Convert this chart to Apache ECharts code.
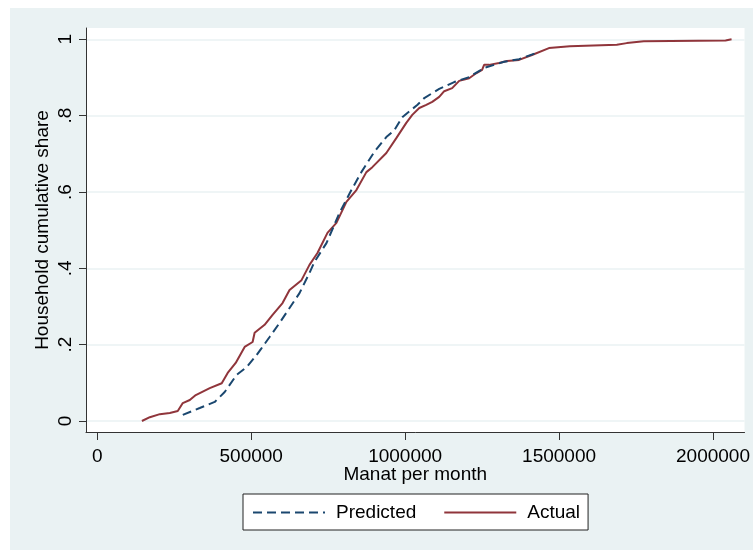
<!DOCTYPE html>
<html>
<head>
<meta charset="utf-8">
<script src="https://cdn.jsdelivr.net/npm/echarts@6/dist/echarts.min.js"></script>
<style>
  html, body { margin: 0; padding: 0; background: #ffffff; }
  #chart { width: 753px; height: 550px; }
</style>
</head>
<body>
<div id="chart"></div>
<script>
// Cumulative distribution of household income (manat per month)
const actualIncome = [145000, 170800, 203200, 235600, 261500, 277800, 300500, 320000, 365400, 404300,
  423600, 449600, 478700, 504600, 511100, 543500, 569400, 601800, 624500, 663400,
  689300, 715200, 747700, 776800, 809200, 841700, 874100, 893500, 938900, 971300,
  1003700, 1023200, 1045900, 1068600, 1088000, 1110700, 1126900, 1152800, 1175500, 1207900,
  1230600, 1250000, 1256500, 1272700, 1305100, 1331000, 1369900,
  1412000, 1467100, 1535100, 1687500, 1719900, 1775000, 2040800, 2060200];
const actualShare = [0.000, 0.010, 0.018, 0.021, 0.026, 0.047, 0.055, 0.068, 0.086, 0.099,
  0.126, 0.152, 0.194, 0.207, 0.231, 0.252, 0.278, 0.309, 0.343, 0.369,
  0.409, 0.440, 0.493, 0.519, 0.574, 0.605, 0.652, 0.665, 0.702, 0.741,
  0.781, 0.802, 0.820, 0.828, 0.836, 0.849, 0.864, 0.872, 0.891, 0.898,
  0.911, 0.920, 0.933, 0.933, 0.938, 0.943, 0.946,
  0.959, 0.977, 0.982, 0.986, 0.990, 0.995, 0.997, 1.000];

const predictedIncome = [277800, 332800, 381500, 413900, 452800, 485200, 517600, 533800, 559700, 592100,
  624500, 656900, 689300, 705500, 744400, 786500, 825400, 857800, 899900, 938900,
  964800, 990700, 1039300, 1062100, 1110700, 1159300, 1207900, 1256500, 1321300, 1369900, 1425000];
const predictedShare = [0.016, 0.034, 0.050, 0.076, 0.121, 0.141, 0.173, 0.191, 0.220, 0.257,
  0.296, 0.335, 0.388, 0.417, 0.466, 0.545, 0.605, 0.652, 0.705, 0.744,
  0.762, 0.796, 0.828, 0.846, 0.870, 0.888, 0.901, 0.925, 0.941, 0.948, 0.964];

const xTicks = [0, 500000, 1000000, 1500000, 2000000];
const yTicks = [0, 0.2, 0.4, 0.6, 0.8, 1];

const zip = (xs, ys) => xs.map((x, i) => [x, ys[i]]);
const fmtShare = v => {
  if (Math.abs(v) < 1e-9) return '0';
  if (Math.abs(v - 1) < 1e-9) return '1';
  return String(Math.round(v * 10) / 10).replace(/^0/, '');
};

const FONT = 'Liberation Sans, Arial, sans-serif';
const NAVY = '#1A476F';
const MAROON = '#90353B';
const AXIS = '#333333';

const chart = echarts.init(document.getElementById('chart'), null, { renderer: 'canvas' });
chart.setOption({
  animation: false,
  backgroundColor: '#ffffff',
  graphic: [{
    type: 'rect', z: -10, silent: true,
    shape: { x: 10, y: 8, width: 743, height: 542 },
    style: { fill: '#EAF2F3' }
  }],
  grid: {
    left: 86, right: 7, top: 28, bottom: 118,
    show: true, backgroundColor: '#ffffff', borderWidth: 0
  },
  xAxis: {
    type: 'value',
    min: -36600, max: 2102400,
    name: 'Manat per month',
    nameLocation: 'middle',
    nameGap: 33,
    nameMoveOverlap: false,
    nameTextStyle: { fontFamily: FONT, fontSize: 19, color: '#000' },
    axisLine: { show: true, onZero: false, lineStyle: { color: AXIS, width: 1 } },
    axisTick: { show: true, length: 8, customValues: xTicks, lineStyle: { color: AXIS } },
    axisLabel: { customValues: xTicks, margin: 15, fontFamily: FONT, fontSize: 19, color: '#000',
      formatter: v => String(v) },
    splitLine: { show: false }
  },
  yAxis: {
    type: 'value',
    min: -0.0288, max: 1.0296,
    name: 'Household cumulative share',
    nameLocation: 'middle',
    nameGap: 34,
    nameMoveOverlap: false,
    nameRotate: 90,
    nameTextStyle: { fontFamily: FONT, fontSize: 19, color: '#000' },
    axisLine: { show: true, onZero: false, lineStyle: { color: AXIS, width: 1 } },
    axisTick: { show: true, length: 7, customValues: yTicks, lineStyle: { color: AXIS } },
    axisLabel: { customValues: yTicks, rotate: 90, margin: 11, fontFamily: FONT, fontSize: 19, color: '#000',
      formatter: fmtShare },
    splitLine: { show: true, lineStyle: { color: '#EAF2F3', width: 1.5 } }
  },
  legend: {
    left: 243, top: 494,
    orient: 'horizontal',
    padding: [9, 8, 8, 9],
    itemGap: 27,
    itemWidth: 72, itemHeight: 14,
    itemStyle: { opacity: 0 },
    borderColor: '#222', borderWidth: 1,
    backgroundColor: '#ffffff',
    textStyle: { fontFamily: FONT, fontSize: 19, color: '#000', padding: [0, 0, 0, 6] },
    data: ['Predicted', 'Actual']
  },
  series: [
    {
      name: 'Predicted', type: 'line', showSymbol: false, symbol: 'none',
      data: zip(predictedIncome, predictedShare),
      lineStyle: { color: NAVY, width: 2, type: [9, 5] },
      itemStyle: { color: NAVY },
      z: 3
    },
    {
      name: 'Actual', type: 'line', showSymbol: false, symbol: 'none',
      data: zip(actualIncome, actualShare),
      lineStyle: { color: MAROON, width: 2 },
      itemStyle: { color: MAROON },
      z: 2
    }
  ]
});
</script>
</body>
</html>
